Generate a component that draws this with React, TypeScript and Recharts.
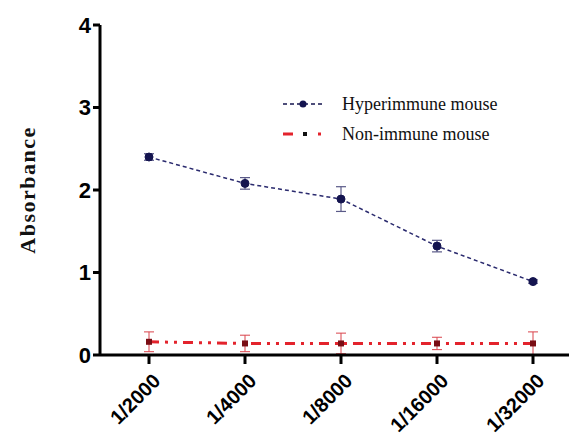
import { LineChart, Line, XAxis, YAxis, ErrorBar } from "recharts";

const dilutions = ["1/2000", "1/4000", "1/8000", "1/16000", "1/32000"];
const hyperimmune = [2.4, 2.08, 1.89, 1.32, 0.89];
const hyperimmuneErr = [0.04, 0.07, 0.15, 0.07, 0.02];
const nonImmune = [0.16, 0.14, 0.14, 0.14, 0.14];
const nonImmuneErr = [0.12, 0.1, 0.125, 0.075, 0.14];
const yTicks = [0, 1, 2, 3, 4];

const data = dilutions.map((d, i) => ({
  name: d,
  hyper: hyperimmune[i],
  hyperErr: hyperimmuneErr[i],
  non: nonImmune[i],
  nonErr: nonImmuneErr[i],
}));

const NAVY = "#14144f";
const RED = "#e3232c";
const RED_DASH = "10 6 3 6 3 6";

const SquareDot = (props: any) => {
  const { cx, cy } = props;
  if (cx == null || cy == null) return null;
  return <rect x={cx - 3} y={cy - 3} width={6} height={6} fill="#7a0d14" />;
};

const XTick = (props: any) => {
  const { x, y, payload } = props;
  return (
    <g transform={`translate(${x},${y + 12})`}>
      <text
        textAnchor="end"
        transform="rotate(-45)"
        fontFamily="Liberation Sans, Arial, sans-serif"
        fontWeight="bold"
        fontSize={20}
        fill="#000"
        dy={12}
        dx={6}
      >
        {payload.value}
      </text>
    </g>
  );
};

const LegendBox = () => (
  <svg width={280} height={70} style={{ position: "absolute", left: 280, top: 90 }}>
    <line x1={3} y1={14} x2={43} y2={14} stroke={NAVY} strokeWidth={1.5} strokeDasharray="4 3" />
    <circle cx={23} cy={14} r={3.5} fill={NAVY} />
    <text x={62} y={20} fontFamily="Liberation Serif, Times New Roman, serif" fontSize={18} fill="#111">
      Hyperimmune mouse
    </text>
    <line x1={3} y1={44} x2={43} y2={44} stroke={RED} strokeWidth={3} strokeDasharray="10 11 3 11 3 20" />
    <rect x={23} y={42} width={4} height={4} fill="#111" />
    <text x={62} y={50} fontFamily="Liberation Serif, Times New Roman, serif" fontSize={18} fill="#111">
      Non-immune mouse
    </text>
  </svg>
);

export default function App() {
  return (
    <div style={{ position: "absolute", left: 0, top: 0, width: 569, height: 443, background: "#fff" }}>
      <LineChart
        width={569}
        height={443}
        data={data}
        margin={{ top: 25, right: 0, bottom: 0, left: 40 }}
      >
        <XAxis
          dataKey="name"
          padding={{ left: 49, right: 36 }}
          axisLine={{ stroke: "#000", strokeWidth: 3 }}
          tickLine={{ stroke: "#000", strokeWidth: 3 }}
          tickSize={9}
          tick={<XTick />}
          interval={0}
          height={88}
        />
        <YAxis
          domain={[0, 4]}
          ticks={yTicks}
          width={60}
          axisLine={{ stroke: "#000", strokeWidth: 3 }}
          tickLine={{ stroke: "#000", strokeWidth: 3 }}
          tickSize={7}
          tick={{
            fill: "#000",
            fontSize: 22,
            fontWeight: "bold",
            fontFamily: "Liberation Sans, Arial, sans-serif",
          }}
          label={{
            value: "Absorbance",
            angle: -90,
            position: "insideLeft",
            offset: -13,
            style: {
              fill: "#111",
              fontSize: 22,
              letterSpacing: 1.5,
              fontWeight: "bold",
              fontFamily: "Liberation Serif, Times New Roman, serif",
              textAnchor: "middle",
            },
          }}
        />
        <Line
          dataKey="non"
          stroke={RED}
          strokeWidth={3}
          strokeDasharray={RED_DASH}
          dot={<SquareDot />}
          isAnimationActive={false}
        >
          <ErrorBar dataKey="nonErr" width={5} stroke="#d9434b" strokeWidth={1} />
        </Line>
        <Line
          dataKey="hyper"
          stroke="#2a2a6e"
          strokeWidth={1.5}
          strokeDasharray="4 3"
          dot={{ r: 4, fill: NAVY, stroke: NAVY, strokeWidth: 1, strokeDasharray: "" }}
          isAnimationActive={false}
        >
          <ErrorBar dataKey="hyperErr" width={5} stroke="#5a5a88" strokeWidth={1.2} />
        </Line>
      </LineChart>
      <LegendBox />
    </div>
  );
}
